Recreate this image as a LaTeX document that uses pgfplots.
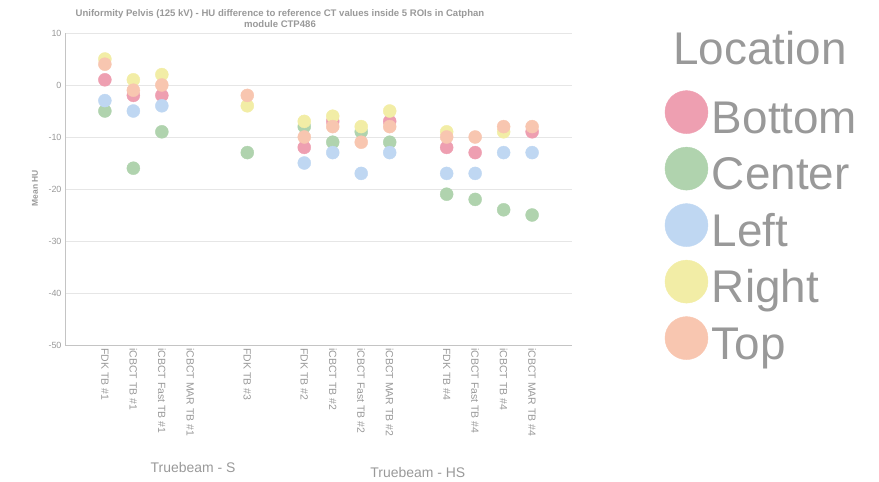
\documentclass[border=0pt]{standalone}
\usepackage{pgfplots}
\pgfplotsset{compat=1.18}
\usepackage{fontspec}
\setmainfont{Liberation Sans}
\definecolor{cB}{HTML}{EE9FB1}
\definecolor{cC}{HTML}{B0D3AE}
\definecolor{cL}{HTML}{BFD7F2}
\definecolor{cR}{HTML}{F2EDA6}
\definecolor{cT}{HTML}{F8C6B0}
\definecolor{txt}{HTML}{999999}
\definecolor{gridc}{HTML}{E6E6E6}
\definecolor{axl}{HTML}{C4C4C4}
\begin{document}
\begin{tikzpicture}
\path[use as bounding box] (0,0) rectangle (879bp,482bp);
\begin{axis}[
  at={(65bp,137bp)}, anchor=south west, scale only axis,
  width=507bp, height=312bp,
  xmin=-1.4, xmax=16.4, ymin=-50, ymax=10,
  clip=false,
  ytick={-50,-40,...,10},
  ymajorgrids, grid style={gridc, line width=0.8bp},
  axis x line*=bottom, axis y line*=left,
  axis line style={axl, line width=0.8bp, -},
  major tick length=0pt,
  xtick={0,1,2,3,5,7,8,9,10,12,13,14,15},
  xticklabels={FDK TB \#1, iCBCT TB \#1, iCBCT Fast TB \#1, iCBCT MAR TB \#1, FDK TB \#3, FDK TB \#2, iCBCT TB \#2, iCBCT Fast TB \#2, iCBCT MAR TB \#2, FDK TB \#4, iCBCT Fast TB \#4, iCBCT TB \#4, iCBCT MAR TB \#4},
  xticklabel style={rotate=-90, anchor=west, font=\fontsize{10.5}{12}\selectfont, text=txt, xshift=0bp},
  yticklabel style={font=\fontsize{9}{10}\selectfont, text=txt},
  /pgf/number format/assume math mode=true,
  ylabel={Mean HU},
  ylabel style={at={(axis description cs:-0.059,0.503)}, anchor=center, rotate=0, font=\bfseries\fontsize{8.5}{10}\selectfont, text=txt},
  title={Uniformity Pelvis (125 kV) - HU difference to reference CT values inside 5 ROIs in Catphan\\module CTP486},
  title style={align=center, font=\bfseries\fontsize{9.6}{11}\selectfont, text=txt, at={(axis description cs:0.424,1)}, anchor=south, yshift=-4bp},
  only marks,
  legend image code/.code={\draw[#1, mark size=21.5bp] plot coordinates {(0bp,8bp)};},
  legend style={at={(1.183,0.816)}, anchor=north west, draw=none, fill=none,
    font=\fontsize{46}{46}\selectfont, text=txt, inner sep=0pt,
    nodes={inner sep=0pt, text height=36bp, text depth=10bp},
    row sep=4bp, column sep=4bp},
  legend cell align=left,
]
\addplot[mark=*, mark size=6.5bp, draw=none, mark options={fill=cB, draw=cB}] coordinates {(0,1) (1,-2) (2,-2) (7,-12) (8,-7) (10,-7) (12,-12) (13,-13) (15,-9)};
\addlegendentry{Bottom}
\addplot[mark=*, mark size=6.5bp, draw=none, mark options={fill=cC, draw=cC}] coordinates {(0,-5) (1,-16) (2,-9) (5,-13) (7,-8) (8,-11) (9,-9) (10,-11) (12,-21) (13,-22) (14,-24) (15,-25)};
\addlegendentry{Center}
\addplot[mark=*, mark size=6.5bp, draw=none, mark options={fill=cL, draw=cL}] coordinates {(0,-3) (1,-5) (2,-4) (7,-15) (8,-13) (9,-17) (10,-13) (12,-17) (13,-17) (14,-13) (15,-13)};
\addlegendentry{Left}
\addplot[mark=*, mark size=6.5bp, draw=none, mark options={fill=cR, draw=cR}] coordinates {(0,5) (1,1) (2,2) (5,-4) (7,-7) (8,-6) (9,-8) (10,-5) (12,-9) (14,-9)};
\addlegendentry{Right}
\addplot[mark=*, mark size=6.5bp, draw=none, mark options={fill=cT, draw=cT}] coordinates {(0,4) (1,-1) (2,0) (5,-2) (7,-10) (8,-8) (9,-11) (10,-8) (12,-10) (13,-10) (14,-8) (15,-8)};
\addlegendentry{Top}
\node[font=\fontsize{14}{14}\selectfont, text=txt] at (axis description cs:0.2525,-0.394) {Truebeam - S};
\node[font=\fontsize{14}{14}\selectfont, text=txt] at (axis description cs:0.696,-0.41) {Truebeam - HS};
\node[font=\fontsize{46}{46}\selectfont, text=txt] at (axis description cs:1.371,0.952) {Location};
\end{axis}
\end{tikzpicture}
\end{document}
